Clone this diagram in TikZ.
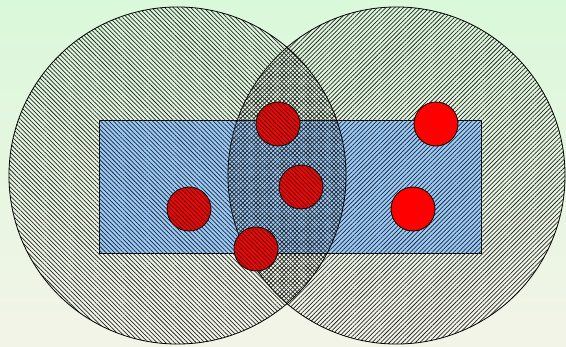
\documentclass[tikz,border=0pt]{standalone}
\usepackage{xcolor}
\usepackage{tikz}
\usetikzlibrary{patterns.meta}
\definecolor{SKtop}{HTML}{DAF8DA}
\definecolor{SKbottom}{HTML}{F3F4E8}
\definecolor{SKblue}{HTML}{99CCFF}
\definecolor{SKred}{HTML}{FF0000}

\begin{document}
\begin{tikzpicture}[
  x=0.75pt, y=-0.75pt,
  zone/.style={circle, draw=black, line width=0.6pt, inner sep=0pt,
               minimum size=252.8pt, pattern color=black!85},
  band/.style={rectangle, draw=black, line width=0.6pt, fill=SKblue,
               inner sep=0pt, minimum width=286.5pt, minimum height=99.75pt},
  reddot/.style={circle, draw=black, line width=0.6pt, fill=SKred,
                 inner sep=0pt, minimum size=33pt},
]
\useasboundingbox (0,0) rectangle (566,346);
\shade[top color=SKtop, bottom color=SKbottom] (0,0) rectangle (566,346);

\node[band] (strip) at (290,186.5) {};
\node[zone, pattern={Lines[angle=45, distance=2.3pt, line width=0.55pt]}]
  (rightzone) at (396.5,175.5) {};

% dots, the ones on the left get covered by the left hatching
\node[reddot] (dtop) at (278,124) {};
\node[reddot] (dmid) at (301,187) {};
\node[reddot] (dleft) at (189,209) {};
\node[reddot] (dlow) at (256,249) {};
\node[reddot] (dnear) at (436,124) {};
\node[reddot] (dfar) at (413,209) {};

\node[zone, pattern={Lines[angle=-45, distance=2.3pt, line width=0.55pt]}]
  (leftzone) at (177.5,175.5) {};
\end{tikzpicture}
\end{document}
